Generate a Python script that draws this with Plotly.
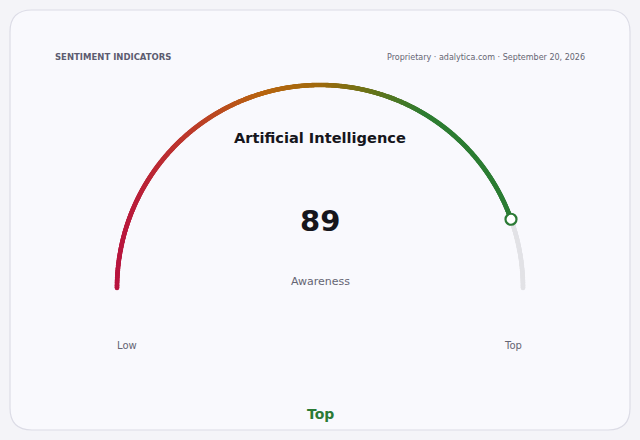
import numpy as np
import plotly.graph_objects as go

# data
title = "Artificial Intelligence"
metric = "Awareness"
value = 89
v_min, v_max = 0, 100
band_labels = ["Low", "Top"]
band_now = "Top"
header_left = "SENTIMENT INDICATORS"
header_right = "Proprietary · adalytica.com · September 20, 2026"

# colours
theme = {
    'page': '#f4f4f8',
    'card': '#f9f9fd',
    'border': '#dcdce6',
    'track': '#e2e2e6',
    'text': '#16161c',
    'muted': '#656573',
    'header': '#5c5c70',
    'green': '#2b7a35',
}
grad = [[0.0, '#b8153f'], [0.18, '#bd3a2c'], [0.36, '#b8650f'],
        [0.5, '#a06a0e'], [0.62, '#6c7318'], [0.76, '#2e7d32'], [1.0, '#2b7d34']]

# gauge geometry (pixel units, y down)
cx, cy, r = 320, 288, 203
frac = (value - v_min) / (v_max - v_min)

t_all = np.linspace(np.pi, 0, 900)
t_fill = t_all[t_all >= np.pi * (1 - frac)]
t_rest = t_all[t_all <= np.pi * (1 - frac)]

fig = go.Figure()

# grey remainder of the track
fig.add_trace(go.Scatter(
    x=cx + r * np.cos(t_rest), y=cy - r * np.sin(t_rest),
    mode='markers', marker=dict(size=4.6, color=theme['track']),
    hoverinfo='skip', showlegend=False))

# coloured part
xf = cx + r * np.cos(t_fill)
fig.add_trace(go.Scatter(
    x=xf, y=cy - r * np.sin(t_fill),
    mode='markers',
    marker=dict(size=4.6, color=(xf - (cx - r)) / (2 * r), colorscale=grad,
                cmin=0, cmax=1),
    hoverinfo='skip', showlegend=False))

# end marker
t_end = np.pi * (1 - frac)
fig.add_trace(go.Scatter(
    x=[cx + r * np.cos(t_end)], y=[cy - r * np.sin(t_end)],
    mode='markers',
    marker=dict(size=11, color='white', line=dict(color=theme['green'], width=2.2)),
    hoverinfo='skip', showlegend=False))

font = "DejaVu Sans, Verdana, sans-serif"


def label(x, y, text, size, color, bold=False, anchor='center'):
    fig.add_annotation(x=x, y=y, xref='x', yref='y', text=f"<b>{text}</b>" if bold else text,
                       showarrow=False, xanchor=anchor, yanchor='middle',
                       font=dict(family=font, size=size, color=color))


label(cx, 137, title, 14.6, theme['text'], bold=True)
label(cx, 221, str(value), 29, theme['text'], bold=True)
label(cx, 281, metric, 11, theme['muted'])
label(cx - r + 10, 345, band_labels[0], 10, theme['muted'])
label(cx + r - 10, 345, band_labels[1], 10, theme['muted'])
label(cx, 414, band_now, 14, theme['green'], bold=True)
label(53, 57, header_left, 8.5, theme['header'], bold=True, anchor='left')
label(587, 57, header_right, 8, theme['muted'], anchor='right')

# rounded card
W, H = 640, 440
x0, y0, x1, y1, rr = 10, 10, 630, 430, 22
path = (f"M {x0 + rr},{y0} L {x1 - rr},{y0} Q {x1},{y0} {x1},{y0 + rr} "
        f"L {x1},{y1 - rr} Q {x1},{y1} {x1 - rr},{y1} L {x0 + rr},{y1} "
        f"Q {x0},{y1} {x0},{y1 - rr} L {x0},{y0 + rr} Q {x0},{y0} {x0 + rr},{y0} Z")
fig.add_shape(type='path', path=path, xref='x', yref='y', layer='below',
              fillcolor=theme['card'], line=dict(color=theme['border'], width=1.2))

fig.update_layout(
    width=W, height=H,
    margin=dict(l=0, r=0, t=0, b=0),
    paper_bgcolor=theme['page'],
    plot_bgcolor=theme['page'],
    xaxis=dict(range=[0, W], visible=False, fixedrange=True),
    yaxis=dict(range=[H, 0], visible=False, fixedrange=True),
    showlegend=False,
)

fig.write_html("out.html", config={'displayModeBar': False},
               post_script="document.body.style.margin='0';")
